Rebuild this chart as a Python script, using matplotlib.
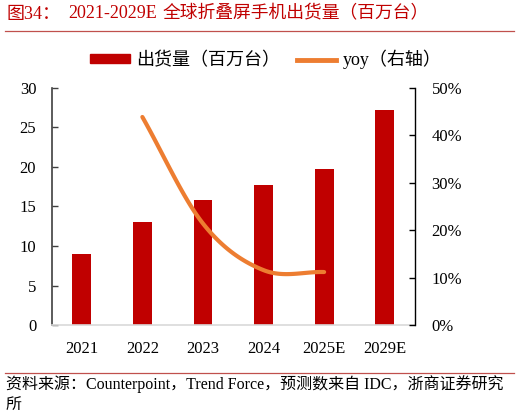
import numpy as np
import matplotlib
matplotlib.use("Agg")
import matplotlib.pyplot as plt
from matplotlib.lines import Line2D
from matplotlib.patches import Patch

# ---- data ----
categories = ["2021", "2022", "2023", "2024", "2025E", "2029E"]
shipments = [9.0, 13.0, 15.8, 17.7, 19.7, 27.2]          # 百万台
yoy_categories = ["2022", "2023", "2024", "2025E"]
yoy = [0.438, 0.214, 0.116, 0.112]
left_ticks = [0, 5, 10, 15, 20, 25, 30]
right_ticks = [0.0, 0.1, 0.2, 0.3, 0.4, 0.5]
right_tick_labels = ["0%", "10%", "20%", "30%", "40%", "50%"]

title_prefix = "图34："
title_years = "2021-2029E"
title_text = "全球折叠屏手机出货量（百万台）"
legend_bar = "出货量（百万台）"
legend_line = "yoy（右轴）"
source_line1 = "资料来源：Counterpoint，Trend Force，预测数来自 IDC，浙商证券研究"
source_line2 = "所"

FONT = ["Liberation Serif", "Noto Sans CJK SC"]
plt.rcParams["font.family"] = FONT
RED = "#C00000"
ORANGE = "#ED7D31"


def catmull_rom(xs, ys, n=40):
    xs = np.asarray(xs, float)
    ys = np.asarray(ys, float)
    px = np.concatenate([[2 * xs[0] - xs[1]], xs, [2 * xs[-1] - xs[-2]]])
    py = np.concatenate([[2 * ys[0] - ys[1]], ys, [2 * ys[-1] - ys[-2]]])
    out_x, out_y = [], []
    for i in range(1, len(px) - 2):
        t = np.linspace(0, 1, n)
        for arr, res in ((px, out_x), (py, out_y)):
            p0, p1, p2, p3 = arr[i - 1], arr[i], arr[i + 1], arr[i + 2]
            res.extend(0.5 * ((2 * p1) + (-p0 + p2) * t
                              + (2 * p0 - 5 * p1 + 4 * p2 - p3) * t ** 2
                              + (-p0 + 3 * p1 - 3 * p2 + p3) * t ** 3))
    return np.array(out_x), np.array(out_y)


fig = plt.figure(figsize=(5.2, 4.18), dpi=100)
ax = fig.add_axes([51.5 / 520, 1 - 325.3 / 418, (415 - 51.5) / 520, (325.3 - 87.5) / 418])

x = np.arange(len(categories))
ax.bar(x, shipments, width=0.31, color=RED, zorder=2)
ax.set_xlim(-0.5, len(categories) - 0.5)
ax.set_ylim(0, 30)
ax.set_yticks(left_ticks)
ax.set_xticks(x)
ax.set_xticklabels(categories)

ax2 = ax.twinx()
xi = [categories.index(c) for c in yoy_categories]
sx, sy = catmull_rom(xi, yoy)
ax2.plot(sx, sy, color=ORANGE, lw=3.0, solid_capstyle="round", zorder=3)
ax2.set_ylim(0, 0.5)
ax2.set_yticks(right_ticks)
ax2.set_yticklabels(right_tick_labels)

for a in (ax, ax2):
    a.spines["top"].set_visible(False)
ax.spines["right"].set_visible(False)
ax2.spines["left"].set_visible(False)
ax2.spines["bottom"].set_visible(False)
ax.spines["left"].set_color("#404040")
ax.spines["left"].set_linewidth(1.2)
ax.spines["bottom"].set_color("#D9D9D9")
ax.spines["bottom"].set_linewidth(1.2)
ax2.spines["right"].set_color("#000000")
ax2.spines["right"].set_linewidth(1.0)

ax.tick_params(axis="y", direction="in", length=4, width=1, color="#404040",
               labelsize=12, pad=11)
ax.tick_params(axis="x", length=0, labelsize=12, pad=11)
ax2.tick_params(axis="y", direction="in", length=4, width=1, color="#000000",
                labelsize=12, pad=12)

handles = [Patch(facecolor=RED, edgecolor=RED),
           Line2D([0], [0], color=ORANGE, lw=3.5)]
leg = fig.legend(handles, [legend_bar, legend_line], ncol=2, frameon=False,
                 loc="center", bbox_to_anchor=(266 / 520, 1 - 59.5 / 418),
                 prop={"family": FONT, "size": 13}, handlelength=2.2,
                 handleheight=0.4, handletextpad=0.35, columnspacing=0.9)

fig.text(7 / 520, 1 - 14 / 418, title_prefix, color=RED, fontsize=13,
         va="center", ha="left")
fig.text(68 / 520, 1 - 14 / 418, title_years, color=RED, fontsize=13,
         va="center", ha="left")
fig.text(163 / 520, 1 - 14 / 418, title_text, color=RED, fontsize=12.8,
         va="center", ha="left")
fig.add_artist(Line2D([5 / 520, 514 / 520], [1 - 31 / 418, 1 - 31 / 418],
                      color="#C0504D", lw=0.9))
fig.add_artist(Line2D([5 / 520, 514 / 520], [1 - 372.7 / 418, 1 - 372.7 / 418],
                      color="#C0504D", lw=0.9))
fig.text(6 / 520, 1 - 384 / 418, source_line1, fontsize=11.5, va="center", ha="left")
fig.text(6 / 520, 1 - 405 / 418, source_line2, fontsize=11.5, va="center", ha="left")

fig.savefig("out.png", dpi=100)
